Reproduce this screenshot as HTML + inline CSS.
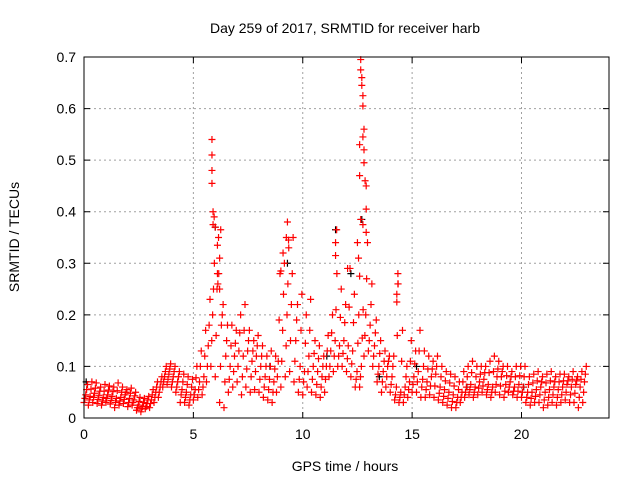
<!DOCTYPE html>
<html><head><meta charset="utf-8"><style>
html,body{margin:0;padding:0;background:#fff}
svg{display:block;font-family:"Liberation Sans",sans-serif}
</style></head><body>
<svg id="chart" width="640" height="480" viewBox="0 0 640 480">
<text x="345" y="33" font-size="14" text-anchor="middle" fill="#000">Day 259 of 2017, SRMTID for receiver harb</text>
<text x="345" y="471" font-size="14" text-anchor="middle" fill="#000">GPS time / hours</text>
<text x="0" y="0" font-size="14" text-anchor="middle" fill="#000" transform="translate(19,237) rotate(-90)">SRMTID / TECUs</text>
<g id="grid"></g>
<g id="marks"></g>
<g id="axes"></g>
</svg>
<script>
const xTicks=[0,5,10,15,20];
const yTicks=[0,0.1,0.2,0.3,0.4,0.5,0.6,0.7];
const yTickLabels=["0","0.1","0.2","0.3","0.4","0.5","0.6","0.7"];
const bandStart=0, bandStep=0.2;
const bandLow=[0.03,0.025,0.03,0.028,0.025,0.03,0.027,0.02,0.025,0.028,0.022,0.025,
0.015,0.012,0.018,0.02,0.03,0.04,0.06,0.065,0.06,0.05,0.03,0.03,0.025,0.035,0.04,0.045,
0.07,0.1,0.08,0.03,0.02,0.05,0.06,0.07,0.045,0.06,0.05,0.055,0.05,0.04,0.035,0.03,0.05,
0.06,0.08,0.09,0.07,0.05,0.045,0.06,0.05,0.045,0.04,0.05,0.08,0.09,0.1,0.1,0.09,0.08,
0.06,0.06,0.12,0.13,0.1,0.07,0.05,0.06,0.05,0.035,0.03,0.03,0.04,0.05,
0.05,0.04,0.04,0.045,0.04,0.035,0.03,0.025,0.02,0.02,0.03,
0.04,0.045,0.04,0.045,0.05,0.045,0.04,0.05,0.045,0.04,0.05,0.045,0.04,0.04,
0.03,0.025,0.03,0.03,0.02,0.025,0.03,0.025,0.03,0.035,0.03,0.03,0.02,0.03];
const bandQ1=[0.038,0.035,0.04,0.036,0.033,0.038,0.034,0.03,0.033,0.036,0.03,0.03,
0.02,0.018,0.022,0.028,0.04,0.05,0.07,0.075,0.07,0.06,0.045,0.04,0.035,0.045,0.055,0.06,
0.1,0.15,0.16,0.1,0.07,0.075,0.09,0.1,0.08,0.095,0.08,0.09,0.075,0.06,0.055,0.05,0.08,
0.11,0.14,0.15,0.11,0.075,0.07,0.09,0.075,0.065,0.06,0.075,0.1,0.12,0.12,0.125,0.115,0.105,
0.075,0.08,0.16,0.15,0.12,0.085,0.07,0.08,0.065,0.045,0.04,0.045,0.055,0.065,
0.07,0.06,0.055,0.062,0.062,0.048,0.042,0.038,0.032,0.03,0.04,
0.05,0.055,0.05,0.058,0.062,0.055,0.05,0.065,0.062,0.052,0.06,0.052,0.052,0.05,
0.04,0.038,0.042,0.045,0.035,0.04,0.045,0.04,0.045,0.05,0.045,0.048,0.04,0.05];
const bandMid=[0.045,0.042,0.048,0.044,0.04,0.045,0.042,0.038,0.04,0.045,0.038,0.035,
0.025,0.022,0.028,0.035,0.05,0.06,0.08,0.085,0.08,0.07,0.055,0.05,0.045,0.055,0.07,0.08,
0.14,0.2,0.25,0.18,0.12,0.1,0.12,0.13,0.12,0.13,0.11,0.12,0.1,0.08,0.075,0.07,0.11,
0.17,0.2,0.22,0.15,0.1,0.09,0.12,0.1,0.09,0.08,0.1,0.13,0.15,0.14,0.15,0.14,0.13,
0.09,0.1,0.2,0.18,0.14,0.1,0.09,0.1,0.08,0.06,0.05,0.06,0.07,0.08,
0.09,0.075,0.07,0.08,0.085,0.06,0.055,0.05,0.045,0.04,0.05,
0.06,0.065,0.06,0.07,0.075,0.065,0.06,0.08,0.08,0.065,0.07,0.06,0.065,0.06,
0.05,0.05,0.055,0.06,0.05,0.055,0.06,0.055,0.06,0.065,0.06,0.065,0.06,0.07];
const bandQ3=[0.055,0.056,0.058,0.052,0.052,0.054,0.051,0.053,0.05,0.05,0.048,0.043,
0.032,0.03,0.035,0.045,0.06,0.07,0.09,0.095,0.09,0.08,0.07,0.065,0.06,0.078,0.1,0.12,
0.18,0.25,0.26,0.2,0.15,0.14,0.145,0.165,0.17,0.15,0.13,0.14,0.12,0.1,0.1,0.095,0.19,
0.24,0.26,0.28,0.19,0.17,0.145,0.17,0.125,0.115,0.1,0.13,0.165,0.21,0.195,0.185,0.215,0.185,
0.145,0.155,0.27,0.22,0.165,0.125,0.11,0.11,0.1,0.16,0.11,0.08,0.11,0.105,
0.13,0.1,0.095,0.095,0.1,0.08,0.072,0.068,0.062,0.055,0.07,
0.08,0.088,0.08,0.085,0.088,0.088,0.09,0.095,0.09,0.082,0.08,0.08,0.082,0.08,
0.065,0.068,0.072,0.07,0.068,0.072,0.07,0.07,0.072,0.072,0.075,0.072,0.075,0.085];
const bandHigh=[0.065,0.07,0.068,0.06,0.065,0.062,0.06,0.068,0.06,0.055,0.058,0.05,
0.04,0.038,0.042,0.055,0.07,0.08,0.1,0.105,0.1,0.09,0.085,0.08,0.075,0.1,0.13,0.17,
0.23,0.3,0.28,0.22,0.18,0.18,0.17,0.2,0.22,0.17,0.15,0.16,0.14,0.12,0.13,0.12,0.28,
0.3,0.33,0.35,0.22,0.24,0.2,0.23,0.15,0.14,0.12,0.16,0.2,0.28,0.25,0.22,0.29,0.24,
0.2,0.21,0.34,0.26,0.19,0.15,0.13,0.12,0.12,0.26,0.17,0.1,0.15,0.13,
0.17,0.13,0.12,0.11,0.12,0.1,0.09,0.085,0.08,0.07,0.09,
0.1,0.11,0.1,0.1,0.1,0.11,0.12,0.11,0.1,0.1,0.09,0.1,0.1,0.1,
0.08,0.085,0.09,0.08,0.085,0.09,0.08,0.085,0.085,0.08,0.09,0.08,0.09,0.1];
const spikeHours=[5.85,5.85,5.85,5.85,5.9,5.95,5.9,6.0,6.1,6.15,6.25,6.2,6.1,6.2,9.3,9.25,9.35,9.1,9.0,11.55,11.5,11.5,12.05,12.65,12.65,12.7,12.7,12.75,12.75,12.8,12.75,12.8,12.6,12.8,12.6,12.9,12.85,12.9,12.65,12.75,12.9,12.5,12.55,12.6,14.35,14.35,14.3,14.3];
const spikeValues=[0.54,0.51,0.48,0.455,0.4,0.39,0.375,0.37,0.335,0.35,0.365,0.31,0.28,0.25,0.38,0.35,0.345,0.32,0.285,0.365,0.34,0.315,0.29,0.695,0.675,0.66,0.645,0.625,0.605,0.56,0.545,0.52,0.53,0.495,0.47,0.45,0.46,0.405,0.385,0.375,0.36,0.34,0.31,0.275,0.28,0.26,0.24,0.225];
const blackHours=[12.7,11.5,6.0,9.3,12.2,11.1,15.2,20.1,0.1,8.5,13.5,17.5];
const blackValues=[0.385,0.365,0.37,0.3,0.28,0.12,0.1,0.06,0.07,0.1,0.08,0.06];

const L=84,R=609,T=57,B=418,XMAX=24,YMAX=0.7;
const xs=h=>L+(h/XMAX)*(R-L);
const ys=v=>B-(v/YMAX)*(B-T);
const NS="http://www.w3.org/2000/svg";
const grid=document.getElementById('grid'),marks=document.getElementById('marks'),axes=document.getElementById('axes');
function mk(tag,attrs,parent){const e=document.createElementNS(NS,tag);for(const k in attrs)e.setAttribute(k,attrs[k]);parent.appendChild(e);return e;}

xTicks.forEach(t=>{
  const x=xs(t);
  if(t>0){const g=mk('line',{x1:x,x2:x,y1:T,y2:B,stroke:'#a0a0a0','stroke-dasharray':'2,3'},grid);
  
  }
  const tk=mk('path',{d:`M${x},${B}v-6M${x},${T}v6`,stroke:'#000'},axes);
  
  
  const lb=mk('text',{x:x,y:B+21,'font-size':14,'text-anchor':'middle',fill:'#000'},axes);
  
  
  lb.textContent=String(t);
});
yTicks.forEach((v,i)=>{
  const y=ys(v);
  if(v>0&&v<YMAX){const g=mk('line',{x1:L,x2:R,y1:y,y2:y,stroke:'#a0a0a0','stroke-dasharray':'2,3'},grid);
  
  }
  const tk=mk('path',{d:`M${L},${y}h6M${R},${y}h-6`,stroke:'#000'},axes);
  
  
  const lb=mk('text',{x:L-8,y:y+5,'font-size':14,'text-anchor':'end',fill:'#000'},axes);
  
  
  lb.textContent=yTickLabels[i];
});
const frame=mk('rect',{x:L,y:T,width:R-L,height:B-T,fill:'none',stroke:'#000'},axes);



function plus(h,v,color){
  const x=xs(h),y=ys(v);
  return mk('path',{d:`M${x-3.5},${y}h7M${x},${y-3.5}v7`,stroke:color,'stroke-width':1.2,fill:'none'},marks);
}
blackHours.forEach((h,i)=>{const p=plus(h,blackValues[i],'#000');
  
  });
[bandLow,bandQ1,bandMid,bandQ3,bandHigh].forEach((arr,k)=>{
  arr.forEach((v,i)=>{
    const h=bandStart+i*bandStep+k*0.04;
    const p=plus(h,v,'#ff0000');
    
    
  });
});
spikeHours.forEach((h,i)=>{const p=plus(h,spikeValues[i],'#ff0000');
  
  });
</script>
</body></html>
